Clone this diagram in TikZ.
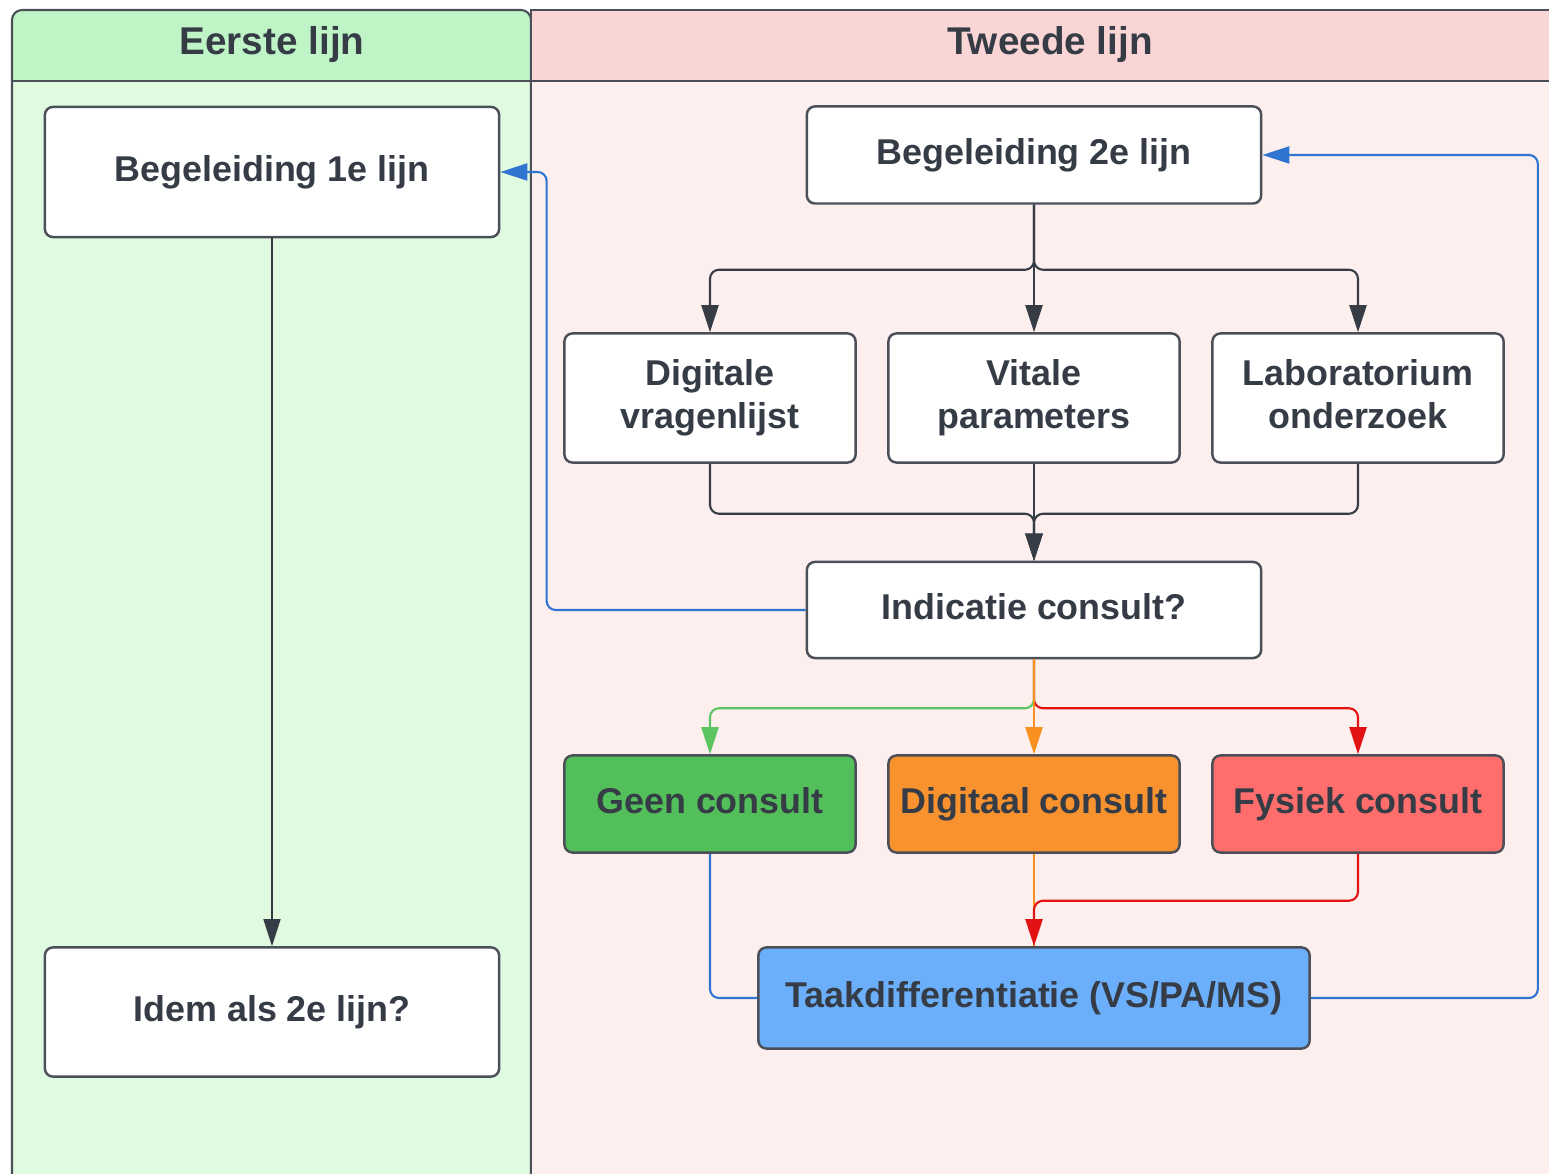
\documentclass[tikz,border=0pt]{standalone}
\usepackage{fontspec}
\setmainfont{Liberation Sans}
\usetikzlibrary{arrows.meta}
\definecolor{tekst}{HTML}{363C46}
\definecolor{rand}{HTML}{4B5058}
\definecolor{kopgroen}{HTML}{BFF5C6}
\definecolor{baangroen}{HTML}{E0FADF}
\definecolor{koproze}{HTML}{FAD5D6}
\definecolor{baanroze}{HTML}{FCEFEE}
\definecolor{groen}{HTML}{53BF5B}
\definecolor{oranje}{HTML}{F8922E}
\definecolor{rood}{HTML}{FF6E6C}
\definecolor{blauw}{HTML}{6BAEF9}
\definecolor{lijnblauw}{HTML}{2F74D0}
\definecolor{lijngroen}{HTML}{5CC460}
\definecolor{lijnoranje}{HTML}{F7901E}
\definecolor{lijnrood}{HTML}{E31212}
\tikzset{every picture/.style={line width=0.6pt}}
\tikzset{
  stap/.style={draw=rand, line width=0.7pt, rounded corners=0.08cm, fill=white, text=tekst,
    font=\fontsize{10.2}{12.3}\selectfont\bfseries, align=center, inner sep=0pt,
    execute at begin node={\vphantom{Ag}}, execute at end node={\vphantom{g}}},
  pijl/.style={-{Triangle[length=0.27cm,width=0.17cm]}, rounded corners=0.09cm},
  kop/.style={text=tekst, font=\fontsize{11}{13}\selectfont\bfseries}
}

\begin{document}
\begin{tikzpicture}[x=0.01cm, y=-0.01cm]
    \useasboundingbox (0,0) rectangle (1549,1174);

    % baan eerste lijn
    \begin{scope}
        \clip[rounded corners=0.1cm] (12,10) rectangle (531,1184);
        \fill[baangroen] (12,10) rectangle (531,1184);
        \fill[kopgroen] (12,10) rectangle (531,81);
    \end{scope}
    \draw[rand, rounded corners=0.1cm] (12,10) rectangle (531,1184);

    % baan tweede lijn
    \fill[baanroze] (531,10) rectangle (1562,1184);
    \fill[koproze] (531,10) rectangle (1562,81);
    \draw[rand] (531,1184) -- (531,10) -- (1562,10);
    \draw[rand] (12,81) -- (1562,81);

    % koppen
    \node[kop] (kop1) at (272,45) {Eerste lijn};
    \node[kop] (kop2) at (1050,45) {Tweede lijn};

    % stappen
    \node[stap, minimum width=4.54cm, minimum height=1.30cm] (beg1) at (272,172) {Begeleiding 1e lijn};
    \node[stap, minimum width=4.54cm, minimum height=1.29cm] (idem) at (272,1012) {Idem als 2e lijn?};
    \node[stap, minimum width=4.54cm, minimum height=0.97cm] (beg2) at (1034,155) {Begeleiding 2e lijn};
    \node[stap, minimum width=2.91cm, minimum height=1.29cm] (vragen) at (710,398) {Digitale\\vragenlijst};
    \node[stap, minimum width=2.91cm, minimum height=1.29cm] (vitaal) at (1034,398) {Vitale\\parameters};
    \node[stap, minimum width=2.91cm, minimum height=1.29cm] (labo) at (1358,398) {Laboratorium\\onderzoek};
    \node[stap, minimum width=4.54cm, minimum height=0.96cm] (indic) at (1034,610) {Indicatie consult?};
    \node[stap, fill=groen, minimum width=2.91cm, minimum height=0.97cm] (geen) at (710,804) {Geen consult};
    \node[stap, fill=oranje, minimum width=2.91cm, minimum height=0.97cm] (digi) at (1034,804) {Digitaal consult};
    \node[stap, fill=rood, minimum width=2.91cm, minimum height=0.97cm] (fysiek) at (1358,804) {Fysiek consult};
    \node[stap, fill=blauw, minimum width=5.51cm, minimum height=1.01cm] (taak) at (1034,998) {Taakdifferentiatie (VS/PA/MS)};

    % eerste lijn
    \draw[pijl, tekst, line width=0.4pt] (beg1.south) -- (idem.north);

    % splitsing naar onderzoeken
    \draw[pijl, tekst] (beg2.south) -- ++(0,65) -| (vragen.north);
    \draw[pijl, tekst] (beg2.south) -- (vitaal.north);
    \draw[pijl, tekst] (beg2.south) -- ++(0,65) -| (labo.north);

    % samenvoegen naar indicatie
    \draw[pijl, tekst] (vragen.south) -- ++(0,50) -| (indic.north);
    \draw[pijl, tekst] (vitaal.south) -- (indic.north);
    \draw[pijl, tekst] (labo.south) -- ++(0,50) -| (indic.north);

    % terug naar eerste lijn
    \draw[pijl, lijnblauw] (indic.west) -- ++(-259,0) |- (beg1.east);

    % soorten consult
    \draw[pijl, lijngroen] (indic.south) -- ++(0,49) -| (geen.north);
    \draw[pijl, lijnrood] (indic.south) -- ++(0,49) -| (fysiek.north);
    \draw[pijl, lijnoranje] (indic.south) -- (digi.north);

    % naar taakdifferentiatie
    \draw[lijnblauw, rounded corners=0.09cm] (geen.south) |- (taak.west);
    \draw[lijnoranje] (digi.south) -- (taak.north);
    \draw[pijl, lijnrood] (fysiek.south) -- ++(0,47) -| (taak.north);

    % terug naar tweede lijn
    \draw[pijl, lijnblauw] (taak.east) -- ++(227,0) |- (beg2.east);
\end{tikzpicture}
\end{document}
